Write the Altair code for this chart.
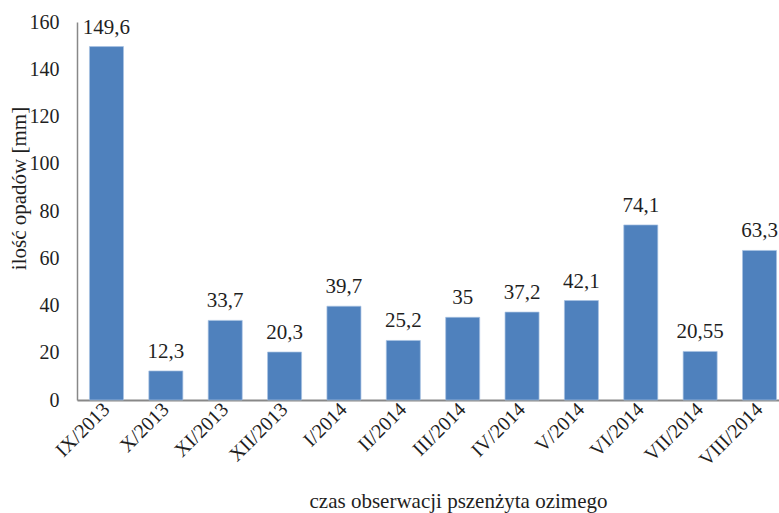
import altair as alt
import pandas as pd

months = ["IX/2013", "X/2013", "XI/2013", "XII/2013", "I/2014", "II/2014",
          "III/2014", "IV/2014", "V/2014", "VI/2014", "VII/2014", "VIII/2014"]
rainfall = [149.6, 12.3, 33.7, 20.3, 39.7, 25.2, 35, 37.2, 42.1, 74.1, 20.55, 63.3]

df = pd.DataFrame({
    "month": months,
    "rain": rainfall,
    "label": [f"{v:g}".replace(".", ",") for v in rainfall],
})

FONT = "Times New Roman, Liberation Serif, DejaVu Serif, serif"
INK = "#1f1f1f"
x = alt.X("month:N", sort=months,
          scale=alt.Scale(paddingInner=0.427, paddingOuter=0.21, range=[0, 712]),
          axis=alt.Axis(title="czas obserwacji pszenżyta ozimego", labelAngle=-45,
                        labelAlign="right", labelBaseline="middle",
                        labelFontSize=20, labelPadding=6, ticks=False,
                        domainColor="#888888", domainWidth=2,
                        titleFontSize=21, titleFontWeight="normal",
                        titleX=381, titleY=107, titleBaseline="alphabetic",
                        labelColor=INK, titleColor=INK))
y = alt.Y("rain:Q", scale=alt.Scale(domain=[0, 160], nice=False),
          axis=alt.Axis(title="ilość opadów [mm]", values=list(range(0, 161, 20)),
                        labelFontSize=20, labelPadding=18, ticks=False, grid=False,
                        domainColor="#888888", domainWidth=1.5,
                        titleFontSize=21, titleFontWeight="normal",
                        titleX=-58, titleY=166, titleBaseline="middle",
                        labelColor=INK, titleColor=INK))

bars = alt.Chart(df).mark_bar(color="#4F81BD", stroke="#A7C1E2", strokeWidth=0.7).encode(x=x, y=y)
text = alt.Chart(df).mark_text(baseline="alphabetic", dy=-13, fontSize=21, font=FONT,
                               color=INK).encode(x=x, y=y, text="label:N")

chart = (bars + text).properties(
    width=701, height=378,
    autosize=alt.AutoSizeParams(type="none"),
    padding={"left": 77, "top": 22, "right": 1, "bottom": 113},
).configure_axis(labelFont=FONT, titleFont=FONT).configure_view(stroke=None)

chart.save("out.html", embed_options={"renderer": "svg", "actions": False})
